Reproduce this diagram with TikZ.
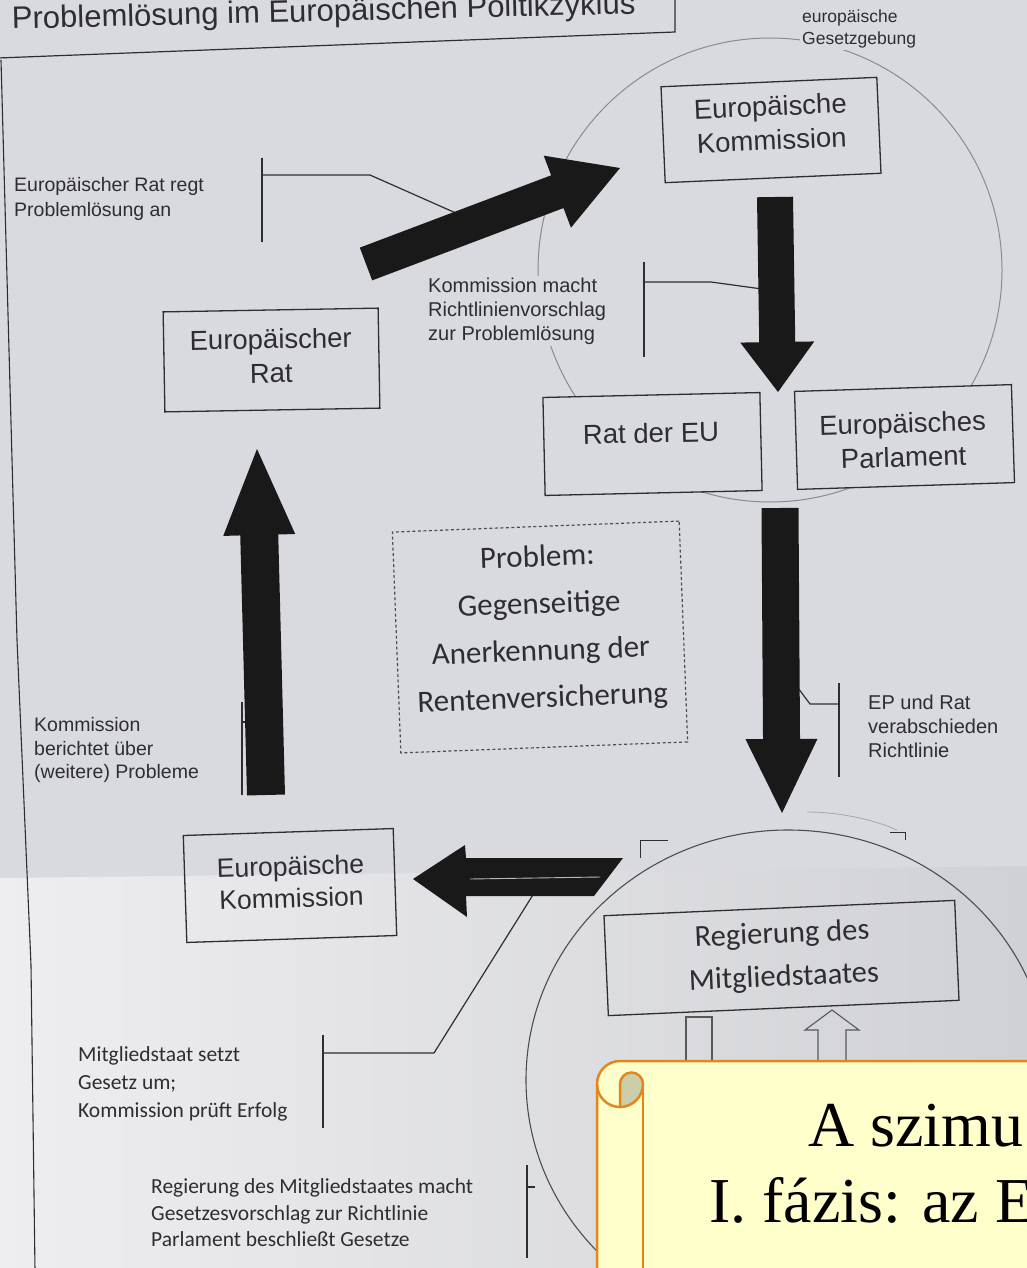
\documentclass[tikz,border=0pt]{standalone}
\usepackage{fontspec}
\setmainfont{Liberation Sans}
\newfontfamily\calibfont{Carlito}
\newfontfamily\scrollfont{Liberation Serif}
\usetikzlibrary{calc}

\definecolor{bgc}{HTML}{D9DADF}
\definecolor{bglo}{HTML}{EEEEF1}
\definecolor{bgdark}{HTML}{D0D1D6}
\definecolor{ink}{HTML}{2E2E32}
\definecolor{circgray}{HTML}{8A8B90}
\definecolor{scrollfill}{HTML}{FFFFCC}
\definecolor{scrollline}{HTML}{E3861B}
\definecolor{curlfill}{HTML}{CDCDA9}

\newcommand{\fatarrow}[5]{%
  \coordinate (fah) at ($(#2)!#4!(#1)$);
  \fill[fat] ($(#1)!#3!90:(#2)$) -- ($(fah)!#3!90:(#2)$) -- ($(fah)!#5!90:(#2)$) -- (#2)
    -- ($(fah)!#5!-90:(#2)$) -- ($(fah)!#3!-90:(#2)$) -- ($(#1)!#3!-90:(#2)$) -- cycle;}

\begin{document}
\begin{tikzpicture}[x=1pt,y=-1pt,
  box/.style={draw=ink, line width=1.3pt, inner sep=0pt},
  fbox/.style={box, fill=bgc},
  btxt/.style={font=\fontsize{27.5}{34}\selectfont, text=ink, align=center, inner sep=0pt},
  lab/.style={font=\fontsize{20}{24}\selectfont, text=ink, align=left, inner sep=1pt, anchor=west},
  clab/.style={font=\calibfont\fontsize{21.5}{28}\selectfont, text=ink, align=left, inner sep=0pt, anchor=west},
  lead/.style={draw=ink, line width=1.2pt},
  fat/.style={fill=black!90},
  hollow/.style={draw=ink!80, line width=1.1pt},
]
\useasboundingbox (0,0) rectangle (1027,1268);
\clip (0,0) rectangle (1027,1268);

% paper
\fill[bgc] (0,0) rectangle (1027,1268);
\shade[left color=bglo, right color=bgdark] (0,878) -- (1027,866) -- (1027,1268) -- (0,1268) -- cycle;

% left margin line and title box
\draw[ink, line width=1.1pt] (1,60) -- (17,640) -- (31,965) -- (35,1270);
\draw[lead] (675,-2) -- (675,32) -- (-2,58);
\node[font=\fontsize{31}{36}\selectfont, text=ink, anchor=base west, inner sep=0pt, rotate=1.4] (title) at (12,29) {Problemlösung im Europäischen Politikzyklus};

% circles
\draw[circgray, line width=1pt] (770,270) circle[radius=232pt];
\draw[ink!85, line width=1.1pt] (788,1080) ellipse[x radius=262pt, y radius=250pt];
\draw[gray!70, line width=0.8pt] (807,812) .. controls (840,812) and (875,820) .. (897,830);
\draw[ink, line width=1pt] (640,858) -- (640,840) -- (668,840);
\draw[ink, line width=1pt] (890,832) -- (905,832) -- (905,840);

% coordinates of the fat arrows
\coordinate (a1s) at (366,264);
\coordinate (a1e) at (620,168);
\coordinate (a2s) at (775,197);
\coordinate (a2e) at (778,392);
\coordinate (a3s) at (780,508);
\coordinate (a3e) at (782,813);
\coordinate (a4s) at (266,795);
\coordinate (a4e) at (257,449);

% leader lines (drawn before arrows)
\draw[lead] (262,158) -- (262,242);
\draw[lead] (262,175) -- (370,175) -- (458,214);
\draw[lead] (644,262) -- (644,357);
\draw[lead] (644,282) -- (711,282) -- (762,289);
\draw[lead] (839,683) -- (839,777);
\draw[lead] (839,704) -- (810,704) -- (795,684);
\draw[lead] (242,702) -- (242,795);
\draw[lead] (242,722) -- (250,722);
\draw[lead] (323,1035) -- (323,1128);
\draw[lead] (323,1053) -- (434,1053) -- (536,890);
\draw[lead] (527,1165) -- (527,1258);
\draw[lead] (527,1187) -- (535,1187);

% boxes
\node[fbox, rotate=2.5, minimum width=216pt, minimum height=96pt] (kom1) at (771,130) {};
\node[btxt, rotate=2.5] (kom1t) at (771,123) {Europäische\\Kommission};

\node[fbox, rotate=1, minimum width=215pt, minimum height=100pt] (erat) at (271.5,360) {};
\node[btxt, rotate=1] (eratt) at (271,356) {Europäischer\\Rat};

\node[fbox, rotate=1.3, minimum width=217pt, minimum height=98pt] (rateu) at (652.5,444) {};
\node[btxt, rotate=1.3] (rateut) at (651,433) {Rat der EU};

\node[fbox, rotate=1.8, minimum width=217pt, minimum height=98pt] (ep) at (904.5,437) {};
\node[btxt, rotate=1.8] (ept) at (903,440) {Europäisches\\Parlament};

\node[draw=ink!85, dash pattern=on 3pt off 2.5pt, line width=1.2pt, rotate=2.2, minimum width=287pt, minimum height=221pt, inner sep=0pt] (prob) at (540,637) {};
\node[font=\calibfont\fontsize{31}{47}\selectfont, text=ink, align=center, inner sep=0pt, rotate=2.2] (probt) at (540,629) {Problem:\\Gegenseitige\\Anerkennung der\\Rentenversicherung};

\node[box, rotate=1.9, minimum width=210pt, minimum height=107pt] (kom2) at (290,885.5) {};
\node[btxt, font=\fontsize{26.5}{32}\selectfont, rotate=1.9] (kom2t) at (291,882) {Europäische\\Kommission};

\node[box, rotate=2.5, minimum width=351pt, minimum height=100pt] (reg) at (781.5,958) {};
\node[font=\calibfont\fontsize{30.5}{43}\selectfont, text=ink, align=center, inner sep=0pt, rotate=2.5] (regt) at (783,956.5) {Regierung des\\Mitgliedstaates};

% small labels
\node[lab, font=\fontsize{17.5}{22}\selectfont, fill=bgc, inner sep=2pt] (gesetz) at (800,29) {europäische\\Gesetzgebung};
\node[lab, font=\fontsize{19.5}{25}\selectfont] (l1) at (13,198.5) {Europäischer Rat regt\\Problemlösung an};
\node[lab, fill=bgc, inner sep=2pt] (l2) at (426,311) {Kommission macht\\Richtlinienvorschlag\\zur Problemlösung};
\node[lab] (l3) at (867,726) {EP und Rat\\verabschieden\\Richtlinie};
\node[lab, font=\fontsize{19.5}{23.5}\selectfont] (l4) at (33,750) {Kommission\\berichtet über\\(weitere) Probleme};
\node[clab] (l5) at (78,1084) {Mitgliedstaat setzt\\Gesetz um;\\Kommission prüft Erfolg};
\node[clab, font=\calibfont\fontsize{21.5}{26.5}\selectfont] (l6) at (151,1213) {Regierung des Mitgliedstaates macht\\Gesetzesvorschlag zur Richtlinie\\Parlament beschließt Gesetze};

% fat arrows
\fatarrow{a1s}{a1e}{17.5pt}{67pt}{38.5pt}
\fatarrow{a2s}{a2e}{18pt}{50pt}{37pt}
\fatarrow{a3s}{a3e}{18.5pt}{74pt}{36pt}
\fatarrow{a4s}{a4e}{19pt}{86pt}{36pt}
\coordinate (a5s) at (610,877);
\coordinate (a5e) at (413,879);
\fill[fat] (623,858) -- (594,896) -- (466,896) -- (467,917) -- (a5e) -- (465,845) -- (466,858) -- cycle;
\draw[gray!55, line width=0.9pt] (470,879) -- (600,877);

% hollow arrows under the government box
\draw[hollow] (686,1075) -- (686,1017) -- (712,1017) -- (712,1075);
\draw[hollow] (818,1075) -- (818,1030) -- (805,1030) -- (832,1010) -- (859,1030) -- (846,1030) -- (846,1075);

% scroll
\filldraw[fill=scrollfill, draw=scrollline, line width=2.5pt] (597,1290) -- (597,1084) arc[start angle=180, end angle=90, radius=23pt] -- (1040,1061) -- (1040,1290) -- cycle;
\draw[scrollline, line width=2.5pt] (643,1084) -- (643,1290);
\filldraw[fill=curlfill, draw=scrollline, line width=2.5pt] (620,1107) -- (620,1084) arc[start angle=180, end angle=0, radius=11.5pt] arc[start angle=0, end angle=-90, radius=23pt] -- cycle;
\draw[scrollline, line width=2.5pt] (597,1084) arc[start angle=180, end angle=270, radius=23pt];
\node[font=\scrollfont\fontsize{64}{77}\selectfont, anchor=base west, inner sep=0pt] (sc1) at (808,1146) {A szimu};
\node[font=\scrollfont\fontsize{64}{77}\selectfont, anchor=base west, inner sep=0pt] (sc2) at (709,1222) {I. fázis: az E};
\end{tikzpicture}
\end{document}
